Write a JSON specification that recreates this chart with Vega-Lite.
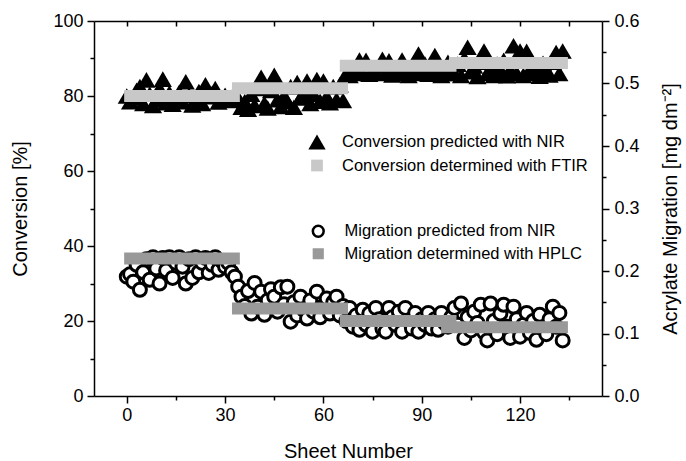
{
"$schema": "https://vega.github.io/schema/vega-lite/v6.json",
"width": 508, "height": 375,
"autosize": "none",
"padding": {"left": 94, "top": 21, "right": 84, "bottom": 65},
"background": "white",
"config": {
 "font": "Liberation Sans",
 "view": {"stroke": null},
 "axis": {"domainColor": "black", "domainWidth": 1.5, "tickColor": "black", "tickWidth": 1.5, "labelColor": "black", "titleColor": "black", "labelFont": "Liberation Sans", "titleFont": "Liberation Sans", "labelFontSize": 18, "titleFontSize": 20, "titleFontWeight": "normal", "grid": false},
 "legend": {"labelFont": "Liberation Sans", "labelFontSize": 16.5, "labelColor": "black", "labelLimit": 0}
},
"datasets": {
"nir": [
{"sheet":0,"conversion":80.0,"migration":0.191},
{"sheet":1,"conversion":78.5,"migration":0.195},
{"sheet":2,"conversion":79.5,"migration":0.183},
{"sheet":3,"conversion":81.5,"migration":0.210},
{"sheet":4,"conversion":82.5,"migration":0.170},
{"sheet":5,"conversion":78.0,"migration":0.198},
{"sheet":6,"conversion":84.3,"migration":0.219},
{"sheet":7,"conversion":80.5,"migration":0.186},
{"sheet":8,"conversion":77.5,"migration":0.222},
{"sheet":9,"conversion":79.0,"migration":0.204},
{"sheet":10,"conversion":82.0,"migration":0.180},
{"sheet":11,"conversion":84.5,"migration":0.221},
{"sheet":12,"conversion":78.2,"migration":0.201},
{"sheet":13,"conversion":80.8,"migration":0.222},
{"sheet":14,"conversion":77.8,"migration":0.189},
{"sheet":15,"conversion":79.5,"migration":0.213},
{"sheet":16,"conversion":81.0,"migration":0.222},
{"sheet":17,"conversion":78.5,"migration":0.207},
{"sheet":18,"conversion":83.8,"migration":0.180},
{"sheet":19,"conversion":80.2,"migration":0.219},
{"sheet":20,"conversion":77.6,"migration":0.189},
{"sheet":21,"conversion":79.2,"migration":0.222},
{"sheet":22,"conversion":81.2,"migration":0.198},
{"sheet":23,"conversion":78.0,"migration":0.213},
{"sheet":24,"conversion":83.0,"migration":0.221},
{"sheet":25,"conversion":79.8,"migration":0.197},
{"sheet":26,"conversion":80.6,"migration":0.210},
{"sheet":27,"conversion":82.0,"migration":0.222},
{"sheet":28,"conversion":78.4,"migration":0.202},
{"sheet":29,"conversion":79.6,"migration":0.216},
{"sheet":30,"conversion":80.2,"migration":0.207},
{"sheet":31,"conversion":78.8,"migration":0.213},
{"sheet":32,"conversion":79.4,"migration":0.198},
{"sheet":33,"conversion":81.0,"migration":0.191},
{"sheet":34,"conversion":79.0,"migration":0.175},
{"sheet":35,"conversion":77.0,"migration":0.159},
{"sheet":36,"conversion":78.5,"migration":0.144},
{"sheet":37,"conversion":76.5,"migration":0.168},
{"sheet":38,"conversion":80.5,"migration":0.132},
{"sheet":39,"conversion":77.5,"migration":0.181},
{"sheet":40,"conversion":82.0,"migration":0.143},
{"sheet":41,"conversion":85.0,"migration":0.167},
{"sheet":42,"conversion":78.0,"migration":0.130},
{"sheet":43,"conversion":76.8,"migration":0.153},
{"sheet":44,"conversion":81.5,"migration":0.171},
{"sheet":45,"conversion":85.5,"migration":0.159},
{"sheet":46,"conversion":79.0,"migration":0.135},
{"sheet":47,"conversion":77.2,"migration":0.174},
{"sheet":48,"conversion":80.0,"migration":0.147},
{"sheet":49,"conversion":78.5,"migration":0.175},
{"sheet":50,"conversion":82.5,"migration":0.119},
{"sheet":51,"conversion":77.0,"migration":0.150},
{"sheet":52,"conversion":83.6,"migration":0.129},
{"sheet":53,"conversion":79.5,"migration":0.159},
{"sheet":54,"conversion":81.0,"migration":0.138},
{"sheet":55,"conversion":84.0,"migration":0.124},
{"sheet":56,"conversion":78.0,"migration":0.153},
{"sheet":57,"conversion":80.5,"migration":0.135},
{"sheet":58,"conversion":84.4,"migration":0.167},
{"sheet":59,"conversion":78.6,"migration":0.126},
{"sheet":60,"conversion":84.0,"migration":0.144},
{"sheet":61,"conversion":79.8,"migration":0.156},
{"sheet":62,"conversion":78.2,"migration":0.132},
{"sheet":63,"conversion":82.5,"migration":0.150},
{"sheet":64,"conversion":79.0,"migration":0.159},
{"sheet":65,"conversion":83.0,"migration":0.129},
{"sheet":66,"conversion":78.8,"migration":0.144},
{"sheet":67,"conversion":86.0,"migration":0.120},
{"sheet":68,"conversion":85.5,"migration":0.141},
{"sheet":69,"conversion":87.5,"migration":0.111},
{"sheet":70,"conversion":86.5,"migration":0.129},
{"sheet":71,"conversion":89.6,"migration":0.106},
{"sheet":72,"conversion":86.0,"migration":0.138},
{"sheet":73,"conversion":89.5,"migration":0.114},
{"sheet":74,"conversion":85.8,"migration":0.132},
{"sheet":75,"conversion":87.0,"migration":0.103},
{"sheet":76,"conversion":86.2,"migration":0.141},
{"sheet":77,"conversion":88.0,"migration":0.123},
{"sheet":78,"conversion":89.8,"migration":0.108},
{"sheet":79,"conversion":86.0,"migration":0.103},
{"sheet":80,"conversion":89.4,"migration":0.141},
{"sheet":81,"conversion":85.6,"migration":0.126},
{"sheet":82,"conversion":87.5,"migration":0.114},
{"sheet":83,"conversion":86.0,"migration":0.135},
{"sheet":84,"conversion":89.6,"migration":0.103},
{"sheet":85,"conversion":86.5,"migration":0.141},
{"sheet":86,"conversion":85.5,"migration":0.120},
{"sheet":87,"conversion":88.0,"migration":0.108},
{"sheet":88,"conversion":86.8,"migration":0.133},
{"sheet":89,"conversion":91.2,"migration":0.103},
{"sheet":90,"conversion":86.0,"migration":0.123},
{"sheet":91,"conversion":88.5,"migration":0.114},
{"sheet":92,"conversion":85.8,"migration":0.133},
{"sheet":93,"conversion":87.0,"migration":0.108},
{"sheet":94,"conversion":90.8,"migration":0.123},
{"sheet":95,"conversion":86.2,"migration":0.106},
{"sheet":96,"conversion":85.5,"migration":0.133},
{"sheet":97,"conversion":87.5,"migration":0.117},
{"sheet":98,"conversion":89.0,"migration":0.111},
{"sheet":99,"conversion":86.0,"migration":0.126},
{"sheet":100,"conversion":86.0,"migration":0.141},
{"sheet":101,"conversion":88.5,"migration":0.114},
{"sheet":102,"conversion":85.5,"migration":0.148},
{"sheet":103,"conversion":90.0,"migration":0.093},
{"sheet":104,"conversion":93.0,"migration":0.126},
{"sheet":105,"conversion":86.5,"migration":0.105},
{"sheet":106,"conversion":88.0,"migration":0.135},
{"sheet":107,"conversion":85.2,"migration":0.117},
{"sheet":108,"conversion":89.0,"migration":0.146},
{"sheet":109,"conversion":92.0,"migration":0.102},
{"sheet":110,"conversion":86.0,"migration":0.089},
{"sheet":111,"conversion":87.5,"migration":0.148},
{"sheet":112,"conversion":85.5,"migration":0.120},
{"sheet":113,"conversion":88.5,"migration":0.099},
{"sheet":114,"conversion":86.5,"migration":0.132},
{"sheet":115,"conversion":89.5,"migration":0.146},
{"sheet":116,"conversion":85.4,"migration":0.111},
{"sheet":117,"conversion":87.0,"migration":0.093},
{"sheet":118,"conversion":93.4,"migration":0.143},
{"sheet":119,"conversion":86.0,"migration":0.123},
{"sheet":120,"conversion":92.0,"migration":0.095},
{"sheet":121,"conversion":85.5,"migration":0.114},
{"sheet":122,"conversion":91.9,"migration":0.133},
{"sheet":123,"conversion":87.0,"migration":0.101},
{"sheet":124,"conversion":86.0,"migration":0.120},
{"sheet":125,"conversion":88.0,"migration":0.090},
{"sheet":126,"conversion":85.3,"migration":0.130},
{"sheet":127,"conversion":88.7,"migration":0.108},
{"sheet":128,"conversion":86.5,"migration":0.099},
{"sheet":129,"conversion":85.6,"migration":0.123},
{"sheet":130,"conversion":89.0,"migration":0.143},
{"sheet":131,"conversion":91.6,"migration":0.111},
{"sheet":132,"conversion":86.0,"migration":0.133},
{"sheet":133,"conversion":92.0,"migration":0.089}
],
"ref": [
{"method":"FTIR","start":-0.8,"end":34.5,"value":80.0},
{"method":"FTIR","start":32.1,"end":67.5,"value":82.1},
{"method":"FTIR","start":65.0,"end":100.6,"value":88.1},
{"method":"FTIR","start":98.3,"end":134.6,"value":88.8},
{"method":"HPLC","start":-0.8,"end":34.5,"value":0.220},
{"method":"HPLC","start":32.1,"end":67.5,"value":0.140},
{"method":"HPLC","start":65.0,"end":100.6,"value":0.120},
{"method":"HPLC","start":95.9,"end":134.6,"value":0.110}
]
},
"layer": [
{
 "data": {"name": "nir"},
 "mark": {"type": "point", "filled": true, "opacity": 1, "size": 330, "strokeWidth": 0},
 "encoding": {
  "x": {"field": "sheet", "type": "quantitative", "scale": {"domain": [-10, 145], "nice": false, "zero": false},
        "axis": {"orient": "bottom", "values": [0, 30, 60, 90, 120], "title": "Sheet Number", "tickSize": 7, "labelPadding": 3, "titlePadding": 17}},
  "y": {"field": "conversion", "type": "quantitative", "scale": {"domain": [0, 100], "nice": false, "zero": false},
        "axis": {"orient": "left", "values": [0, 20, 40, 60, 80, 100], "title": "Conversion [%]", "tickSize": 7, "labelPadding": 4, "titlePadding": 22}},
  "color": {"datum": "Conversion predicted with NIR", "type": "nominal",
            "scale": {"domain": ["Conversion predicted with NIR", "Conversion determined with FTIR"], "range": ["black", "#c8c8c8"]},
            "legend": {"orient": "none", "legendX": 214, "legendY": 112, "title": null, "padding": 0, "symbolSize": 300, "labelOffset": 16, "rowPadding": 5.5, "symbolStrokeWidth": 0}},
  "shape": {"datum": "Conversion predicted with NIR", "type": "nominal",
            "scale": {"domain": ["Conversion predicted with NIR", "Conversion determined with FTIR"], "range": ["triangle-up", "M-0.68,-0.68H0.68V0.68H-0.68Z"]},
            "legend": {"orient": "none", "legendX": 214, "legendY": 112, "title": null, "padding": 0, "symbolSize": 300, "labelOffset": 16, "rowPadding": 5.5, "symbolStrokeWidth": 0}}
 }
},
{
 "data": {"name": "ref"},
 "transform": [{"filter": "datum.method === 'FTIR'"}],
 "mark": {"type": "rule", "color": "#c8c8c8", "strokeWidth": 12, "strokeCap": "butt"},
 "encoding": {
  "x": {"field": "start", "type": "quantitative", "scale": {"domain": [-10, 145], "nice": false, "zero": false},
        "axis": {"orient": "bottom", "values": [15, 45, 75, 105, 135], "labels": false, "title": null, "domain": false, "tickSize": 4}},
  "x2": {"field": "end"},
  "y": {"field": "value", "type": "quantitative", "scale": {"domain": [0, 100], "nice": false, "zero": false},
        "axis": {"orient": "left", "values": [10, 30, 50, 70, 90], "labels": false, "title": null, "domain": false, "tickSize": 4}}
 }
},
{
 "data": {"name": "nir"},
 "mark": {"type": "point", "filled": true, "opacity": 1, "size": 169, "strokeWidth": 3},
 "encoding": {
  "x": {"field": "sheet", "type": "quantitative", "scale": {"domain": [-10, 145], "nice": false, "zero": false},
        "axis": {"orient": "top", "values": [0, 15, 30, 45, 60, 75, 90, 105, 120, 135], "labels": false, "title": null, "tickSize": -5}},
  "y": {"field": "migration", "type": "quantitative", "scale": {"domain": [0, 0.6], "nice": false, "zero": false},
        "axis": {"orient": "right", "values": [0, 0.1, 0.2, 0.3, 0.4, 0.5, 0.6], "format": ".1f", "title": "Acrylate Migration [mg dm⁻²]", "tickSize": 7, "labelPadding": 5, "titlePadding": 21, "titleAngle": 270, "titleBaseline": "top"}},
  "fill": {"datum": "Migration predicted from NIR", "type": "nominal",
           "scale": {"domain": ["Migration predicted from NIR", "Migration determined with HPLC"], "range": ["white", "#999999"]},
           "legend": {"orient": "none", "legendX": 216, "legendY": 202, "title": null, "padding": 0, "symbolSize": 117, "labelOffset": 18, "rowPadding": 1.5, "symbolStrokeWidth": 2.5}},
  "stroke": {"datum": "Migration predicted from NIR", "type": "nominal",
             "scale": {"domain": ["Migration predicted from NIR", "Migration determined with HPLC"], "range": ["black", "#999999"]},
             "legend": {"orient": "none", "legendX": 216, "legendY": 202, "title": null, "padding": 0, "symbolSize": 117, "labelOffset": 18, "rowPadding": 1.5, "symbolStrokeWidth": 2.5}},
  "shape": {"datum": "Migration predicted from NIR", "type": "nominal",
            "scale": {"domain": ["Migration predicted from NIR", "Migration determined with HPLC"], "range": ["circle", "M-0.8,-0.8H0.8V0.8H-0.8Z"]},
            "legend": {"orient": "none", "legendX": 216, "legendY": 202, "title": null, "padding": 0, "symbolSize": 117, "labelOffset": 18, "rowPadding": 1.5, "symbolStrokeWidth": 2.5}}
 }
},
{
 "data": {"name": "ref"},
 "transform": [{"filter": "datum.method === 'HPLC'"}],
 "mark": {"type": "rule", "color": "#999999", "strokeWidth": 12, "strokeCap": "butt"},
 "encoding": {
  "x": {"field": "start", "type": "quantitative", "scale": {"domain": [-10, 145], "nice": false, "zero": false}, "axis": null},
  "x2": {"field": "end"},
  "y": {"field": "value", "type": "quantitative", "scale": {"domain": [0, 0.6], "nice": false, "zero": false},
        "axis": {"orient": "right", "values": [0.05, 0.15, 0.25, 0.35, 0.45, 0.55], "labels": false, "title": null, "domain": false, "tickSize": 4}}
 }
}
],
"resolve": {
 "scale": {"y": "independent", "color": "independent", "shape": "independent", "fill": "independent", "stroke": "independent"},
 "axis": {"x": "independent", "y": "independent"}
}
}
